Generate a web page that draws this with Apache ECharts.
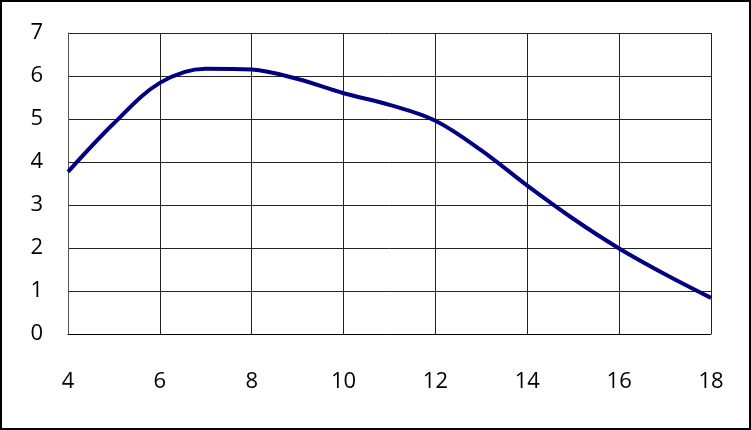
<!DOCTYPE html>
<html>
<head>
<meta charset="utf-8">
<script src="https://cdn.jsdelivr.net/npm/echarts@6/dist/echarts.min.js"></script>
<style>
  html, body { margin: 0; padding: 0; background: #fff; }
  #chart { width: 751px; height: 430px; box-sizing: border-box; border: 2px solid #000; }
</style>
</head>
<body>
<div id="chart"></div>
<script>
// x values and curve values
var xs = [4, 5, 6, 7, 8, 9, 10, 11, 12, 13, 14, 15, 16, 17, 18];
var ys = [3.77, 4.9, 5.84, 6.17, 6.15, 5.93, 5.6, 5.33, 4.96, 4.27, 3.45, 2.68, 1.99, 1.39, 0.84];

var points = [];
for (var i = 0; i < xs.length; i++) {
    points.push([xs[i], ys[i]]);
}

let chart = echarts.init(document.getElementById("chart"));

let option = {
    animation: false,
    grid: {
        left: 66,
        right: 38,
        top: 31,
        bottom: 94
    },
    xAxis: {
        type: 'value',
        min: 4,
        max: 18,
        interval: 2,
        axisLine: { show: true, lineStyle: { color: '#000', width: 1 } },
        axisTick: { show: false },
        axisLabel: {
            color: '#000',
            fontSize: 22,
            fontFamily: 'Open Sans',
            margin: 37
        },
        splitLine: { show: true, lineStyle: { color: '#222', width: 1 } }
    },
    yAxis: {
        type: 'value',
        min: 0,
        max: 7,
        interval: 1,
        axisLine: { show: true, lineStyle: { color: '#555', width: 1 } },
        axisTick: { show: false },
        axisLabel: {
            color: '#000',
            fontSize: 22,
            fontFamily: 'Open Sans',
            margin: 25
        },
        splitLine: { show: true, lineStyle: { color: '#222', width: 1 } }
    },
    series: [{
        type: 'line',
        data: points,
        smooth: 0.35,
        showSymbol: false,
        lineStyle: { color: '#000080', width: 4 }
    }]
};

chart.setOption(option);
</script>
</body>
</html>
